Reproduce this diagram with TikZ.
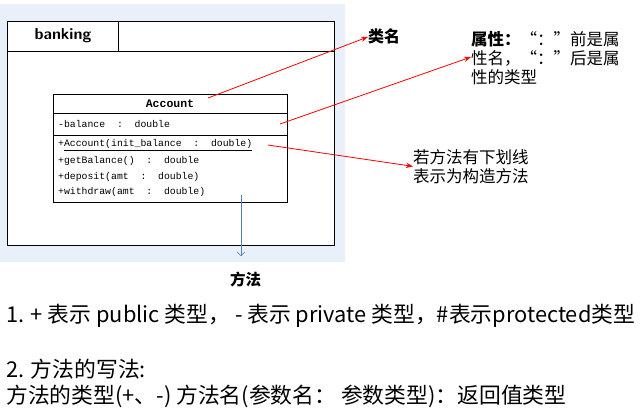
\documentclass[tikz,border=0pt]{standalone}
\usepackage{fontspec}
\setmainfont{Carlito}
\setmonofont{Liberation Mono}
\newfontfamily\cjk{Noto Sans CJK SC}
\usetikzlibrary{arrows.meta}
\definecolor{bgblue}{HTML}{EAF0FA}
\definecolor{linkblue}{HTML}{4F81BD}
\tikzset{
  member/.style={anchor=west,inner sep=0pt,font=\ttfamily\fontsize{9.8}{10}\selectfont},
  note/.style={anchor=north west,inner sep=0pt,align=left,font=\cjk\fontsize{16.5}{19}\selectfont},
  pointer/.style={red,thick,-{Stealth[length=7pt]}},
  bottomline/.style={anchor=west,inner sep=0pt,font=\cjk\fontsize{21.8}{24}\selectfont}
}
\begin{document}
\begin{tikzpicture}[x=1pt,y=-1pt]
    \useasboundingbox (0,0) rectangle (644,413);
    \clip (0,0) rectangle (644,413);
    \fill[bgblue] (0,4) rectangle (345,262);
    % package frame
    \draw[fill=white] (7,21) rectangle (334,245);
    \draw (7,51) -- (334,51);
    \draw (118,21) -- (118,51);
    \node (pkg) at (63,36) {\sffamily\bfseries\fontsize{16}{18}\selectfont banking};
    % class box
    \draw[fill=white] (53,94) rectangle (287,202);
    \draw (53,113) -- (287,113);
    \draw (53,135) -- (287,135);
    \node (cls) at (170,104) {\ttfamily\bfseries\fontsize{11.5}{12}\selectfont Account};
    \node[member] (attr) at (58,124) {-balance\ \ :\ \ double};
    \node[member] (ctor) at (58,145) {+\underline{Account(init\_balance\ \ :\ \ double)}};
    \node[member] (get) at (58,161) {+getBalance()\ \ :\ \ double};
    \node[member] (dep) at (58,177) {+deposit(amt\ \ :\ \ double)};
    \node[member] (wd) at (58,192) {+withdraw(amt\ \ :\ \ double)};
    \coordinate (clsend) at (208,98);
    \coordinate (attrend) at (280,124);
    \coordinate (ctorend) at (268,145);
    \coordinate (mtop) at (241,195);
    % annotations
    \node[note,font=\cjk\bfseries\fontsize{16}{18}\selectfont] (lname) at (368,29) {类名};
    \node[note] (lattr) at (471,31) {\textbf{属性：}“：”前是属\\性名，“：”后是属\\性的类型};
    \node[note] (lctor) at (413,149) {若方法有下划线\\表示为构造方法};
    \node[note,font=\cjk\bfseries\fontsize{15.5}{18}\selectfont] (lmeth) at (230,272) {方法};
    \draw[pointer] (clsend) -- (lname.west);
    \draw[pointer] (attrend) -- (lattr.west |- 0,57);
    \draw[pointer] (ctorend) -- (lctor.west);
    \draw[linkblue,-{Straight Barb[length=4pt]}] (mtop) -- (241,256);
    % notes below
    \node[bottomline] (n1) at (6,316) {1. + 表示 public 类型， - 表示 private 类型，\#表示protected类型};
    \node[bottomline] (n2) at (6,369) {2. 方法的写法:};
    \node[bottomline] (n3) at (6,396) {方法的类型(+、-) 方法名(参数名： 参数类型)：返回值类型};
\end{tikzpicture}
\end{document}
